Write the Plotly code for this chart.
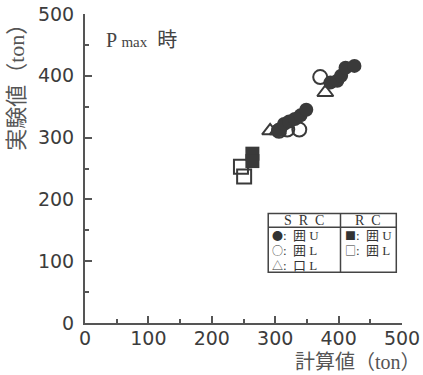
import plotly.graph_objects as go

# Measured strength (実験値) vs. calculated strength (計算値), in tons
src_u_calc = [305, 314, 322, 331, 340, 349, 387, 398, 404, 411, 425]
src_u_exp = [312, 322, 326, 330, 336, 345, 389, 392, 400, 413, 416]

src_l_calc = [306, 319, 338, 371]
src_l_exp = [311, 313, 313, 398]

src_box_calc = [292, 304, 379]
src_box_exp = [311, 311, 373]

rc_u_calc = [264, 264]
rc_u_exp = [274, 262]

rc_l_calc = [246, 251]
rc_l_exp = [253, 237]

ticks = [0, 100, 200, 300, 400, 500]

INK = "#3a3a3a"
AXIS = "#555555"
SERIF = "Liberation Serif, Noto Sans CJK JP"
SANS = "DejaVu Sans, sans-serif"

fig = go.Figure()


def add_series(xs, ys, symbol, filled):
    marker = dict(symbol=symbol, size=14, color=INK,
                  line=dict(color=INK, width=2 if not filled else 0))
    fig.add_trace(go.Scatter(x=xs, y=ys, mode="markers", marker=marker,
                             showlegend=False, hoverinfo="skip", cliponaxis=False))


add_series(src_l_calc, src_l_exp, "circle-open", False)
add_series(src_box_calc, src_box_exp, "triangle-up-open", False)
add_series(rc_l_calc, rc_l_exp, "square-open", False)
add_series(rc_u_calc, rc_u_exp, "square", True)
add_series(src_u_calc, src_u_exp, "circle", True)

axis_common = dict(
    range=[0, 500], tickvals=ticks, ticktext=[str(t) for t in ticks],
    showgrid=False, zeroline=False, showline=True, linecolor=AXIS, linewidth=2,
    ticks="inside", ticklen=7, tickwidth=2, tickcolor=AXIS, automargin=False,
    minor=dict(ticks="inside", ticklen=4, tickwidth=2, tickcolor=AXIS, dtick=50, tick0=0),
    tickfont=dict(family=SANS, size=19, color="#3c3c3c"),
)

fig.update_layout(
    width=423, height=375,
    margin=dict(l=85, r=21, t=14, b=52, autoexpand=False),
    paper_bgcolor="white", plot_bgcolor="white",
    xaxis=dict(**axis_common, ticklabelstandoff=-3),
    yaxis=dict(**axis_common, ticklabelstandoff=5),
)

# Axis titles and the condition label
fig.add_annotation(text="実験値（ton）", xref="paper", yref="paper",
                   x=-0.215, y=0.78, xanchor="center", yanchor="middle",
                   textangle=-90, showarrow=False,
                   font=dict(family=SERIF, size=22, color="#555555"))
fig.add_annotation(text="計算値（ton）", xref="paper", yref="paper",
                   x=1.065, y=-0.125, xanchor="right", yanchor="middle",
                   showarrow=False,
                   font=dict(family=SERIF, size=20, color="#555555"))
fig.add_annotation(text="P <span style='font-size:15px'>max</span>  時",
                   xref="paper", yref="paper", x=0.06, y=0.915,
                   xanchor="left", yanchor="middle", showarrow=False,
                   font=dict(family=SERIF, size=20, color="#444444"))

# Key box for the symbol meanings
box_x0, box_x1, box_div = 289, 491, 403
box_y0, box_y1, box_hdr = 82, 177, 155
line = dict(color="#444444", width=1.5)
fig.add_shape(type="rect", x0=box_x0, x1=box_x1, y0=box_y0, y1=box_y1,
              xref="x", yref="y", line=line, fillcolor="white", layer="below")
fig.add_shape(type="line", x0=box_x0, x1=box_x1, y0=box_hdr, y1=box_hdr,
              xref="x", yref="y", line=line)
fig.add_shape(type="line", x0=box_div, x1=box_div, y0=box_y0, y1=box_y1,
              xref="x", yref="y", line=line)

key_font = dict(family=SERIF, size=13, color="#333333")
fig.add_annotation(text="S  R  C", x=(box_x0 + box_div) / 2, y=166, xref="x", yref="y",
                   showarrow=False, font=dict(family=SERIF, size=14, color="#333333"))
fig.add_annotation(text="R  C", x=(box_div + box_x1) / 2, y=166, xref="x", yref="y",
                   showarrow=False, font=dict(family=SERIF, size=14, color="#333333"))


def key_row(symbol, kind):
    sym = f"<span style='font-family:Noto Sans CJK JP;font-size:11px'>{symbol}</span>"
    return f"{sym}:  {kind}"


left_rows = [key_row("●", "囲 U"), key_row("○", "囲 L"), key_row("△", "口 L")]
right_rows = [key_row("■", "囲 U"), key_row("□", "囲 L")]
row_y = [142, 118, 94]
for txt, yy in zip(left_rows, row_y):
    fig.add_annotation(text=txt, x=box_x0 + 5, y=yy, xref="x", yref="y",
                       xanchor="left", showarrow=False, font=key_font, borderpad=0)
for txt, yy in zip(right_rows, row_y):
    fig.add_annotation(text=txt, x=box_div + 5, y=yy, xref="x", yref="y",
                       xanchor="left", showarrow=False, font=key_font, borderpad=0)

fig.write_html("out.html")
